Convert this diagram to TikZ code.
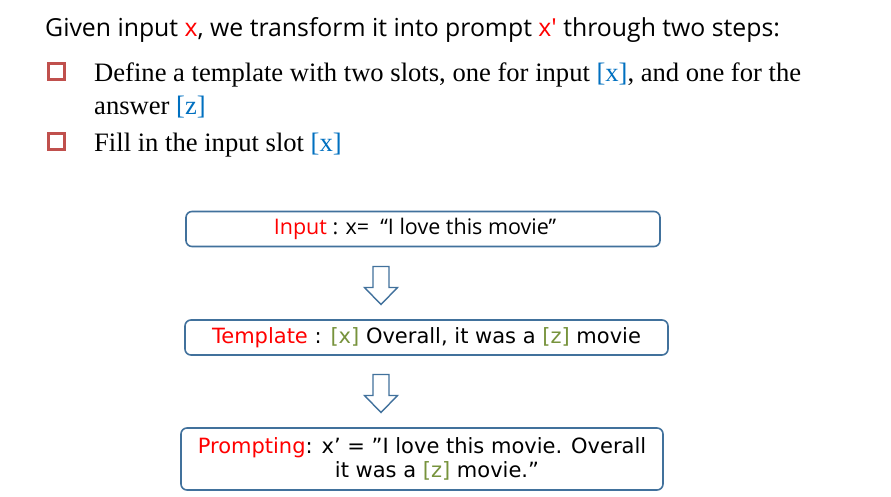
\documentclass[tikz,border=0pt]{standalone}
\usepackage{fontspec}

\newfontfamily\titlefont[Ligatures=TeXOff]{Open Sans}
\newfontfamily\stepfont{Liberation Serif}
\newfontfamily\boxfont{DejaVu Sans}

\begin{document}
\begin{tikzpicture}[x=1pt,y=-1pt,
    bulletbox/.style={draw=sq_red,line width=3pt,minimum size=16pt,inner sep=0},
    steptext/.style={anchor=base west,inner sep=0,font=\stepfont\fontsize{26.6}{32}\selectfont},
    promptbox/.style={draw=box_blue,line width=1.6pt,rounded corners=6pt,
        minimum height=35pt,inner sep=0,font=\boxfont\fontsize{21}{24}\selectfont,align=center},
    flowarrow/.style={draw=box_blue,line width=1.4pt,line join=miter}]
% ------------------------------------------------ slide colors
\definecolor{sq_red}{RGB}{192,80,77}    %#C0504D
\definecolor{box_blue}{RGB}{65,113,156} %#41719C
\definecolor{slot_blue}{RGB}{0,112,192} %#0070C0
\definecolor{slot_green}{RGB}{119,147,60} %#77933C
\definecolor{key_red}{RGB}{255,0,0}

% hollow block arrow pointing down, centred on a coordinate
\newcommand{\hollowarrow}[1]{
\draw[flowarrow,shift={(#1)}] (-8,-19) -- (8,-19) -- (8,2) -- (16.5,2) -- (0,19) -- (-16.5,2) -- (-8,2) -- cycle ;
}

\useasboundingbox[fill=white] (0,0) rectangle (891,497);

% ------------------------------------------------ heading + steps
\node[anchor=base west,inner sep=0,font=\titlefont\fontsize{24.8}{29}\selectfont] (title) at (45,37)
    {Given input \textcolor{key_red}{x}, we transform it into prompt \textcolor{key_red}{x'} through two steps:};

\node[bulletbox] (sq1) at (56,71.5) {};
\node[bulletbox] (sq2) at (56,142) {};

\node[steptext] (step1a) at (94,82)
    {Define a template with two slots, one for input \textcolor{slot_blue}{[x]}, and one for the};
\node[steptext] (step1b) at (94,115) {answer \textcolor{slot_blue}{[z]}};
\node[steptext] (step2) at (94,152) {Fill in the input slot \textcolor{slot_blue}{[x]}};

% ------------------------------------------------ the three boxes
\node[promptbox,minimum width=474pt,font=\titlefont\fontsize{21.5}{24}\selectfont] (inp) at (423,229)
    {\hspace*{-16pt}\textcolor{key_red}{Input} : x=\ \ “I love this movie”};
\node[promptbox,minimum width=483pt] (tpl) at (426.5,337.5)
    {\textcolor{key_red}{Template} : \textcolor{slot_green}{[x]} Overall, it was a \textcolor{slot_green}{[z]} movie};
\node[promptbox,minimum width=482pt,minimum height=62pt] (prm) at (422,459)
    {\textcolor{key_red}{Prompting}: x’ = ”I love this movie. Overall\\
     \hspace*{30pt}it was a \textcolor{slot_green}{[z]} movie.”};

\coordinate (a1) at (381,285.5);
\coordinate (a2) at (381,393.5);
\hollowarrow{a1}
\hollowarrow{a2}

\end{tikzpicture}
\end{document}
